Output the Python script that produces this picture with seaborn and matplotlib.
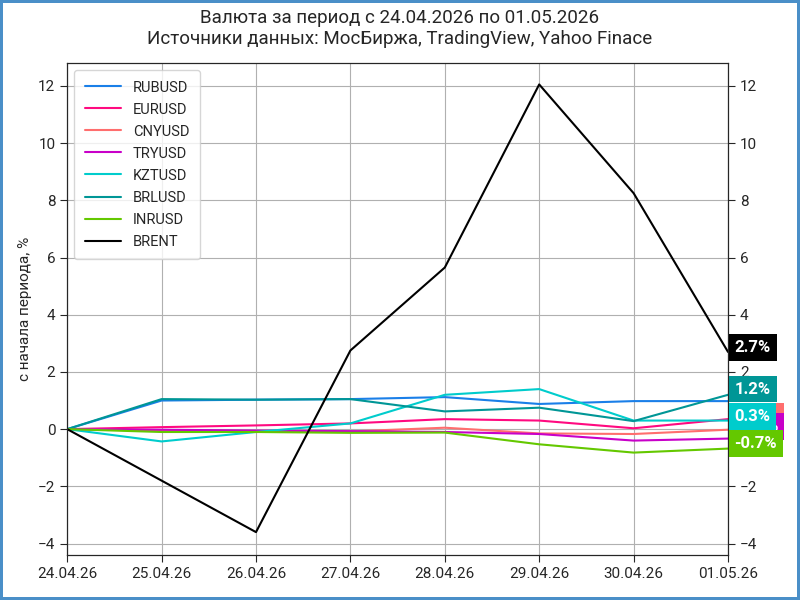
import matplotlib
matplotlib.use("Agg")
import matplotlib.pyplot as plt
import seaborn as sns
import pandas as pd

sns.set_style("white")
plt.rcParams['font.family'] = ['Roboto', 'DejaVu Sans']

dates = ["24.04.26", "25.04.26", "26.04.26", "27.04.26", "28.04.26", "29.04.26", "30.04.26", "01.05.26"]
RUBUSD = [0, 1.0, 1.03, 1.05, 1.12, 0.88, 0.98, 0.98]
EURUSD = [0, 0.07, 0.13, 0.2, 0.35, 0.3, 0.03, 0.35]
CNYUSD = [0, -0.05, -0.07, -0.08, 0.05, -0.15, -0.17, -0.02]
TRYUSD = [0, -0.02, -0.05, -0.07, -0.1, -0.17, -0.4, -0.33]
KZTUSD = [0, -0.43, -0.1, 0.2, 1.2, 1.4, 0.3, 0.3]
BRLUSD = [0, 1.05, 1.03, 1.05, 0.62, 0.75, 0.28, 1.2]
INRUSD = [0, -0.1, -0.1, -0.13, -0.12, -0.53, -0.82, -0.68]
BRENT = [0, -1.8, -3.6, 2.75, 5.65, 12.05, 8.25, 2.7]

series = {"RUBUSD": RUBUSD, "EURUSD": EURUSD, "CNYUSD": CNYUSD, "TRYUSD": TRYUSD,
          "KZTUSD": KZTUSD, "BRLUSD": BRLUSD, "INRUSD": INRUSD, "BRENT": BRENT}
colors = {"RUBUSD": "#1a7fe8", "EURUSD": "#ff0a80", "CNYUSD": "#ff6e6e", "TRYUSD": "#c800c8",
          "KZTUSD": "#00cccc", "BRLUSD": "#009696", "INRUSD": "#64c800", "BRENT": "#000000"}

rows = []
for name, vals in series.items():
    for i, v in enumerate(vals):
        rows.append({"x": i, "v": v, "s": name})
df = pd.DataFrame(rows)

fig = plt.figure(figsize=(8, 6), dpi=100, edgecolor="#4a8fc8", linewidth=3)
ax = fig.add_axes([0.084, 0.075, 0.826, 0.82])
sns.lineplot(data=df, x="x", y="v", hue="s", palette=colors, ax=ax, linewidth=1.5)
ax.set_xlim(0, 7)
ax.set_ylim(-4.4, 12.8)
ax.set_xticks(range(8))
ax.set_xticklabels(dates, fontsize=11)
ax.set_yticks(range(-4, 13, 2))
ax.tick_params(labelsize=11, length=5, left=True, bottom=True)
ax.grid(True, color="#b0b0b0", linewidth=0.8)
ax.set_xlabel("")
ax.set_ylabel("с начала периода, %", fontsize=11)
for s in ax.spines.values():
    s.set_color("black")
leg = ax.legend(loc="upper left", fontsize=10.5, handlelength=2.5, borderpad=0.7, labelspacing=0.55)
ax2 = ax.twinx()
ax2.set_ylim(ax.get_ylim())
ax2.set_yticks(range(-4, 13, 2))
ax2.tick_params(labelsize=11, length=5, right=True)
fig.suptitle("Валюта за период с 24.04.2026 по 01.05.2026\nИсточники данных: МосБиржа, TradingView, Yahoo Finace",
             fontsize=13.5, y=0.985)

# right-side value labels: (series, label y position in data units, x offset)
labels = [("CNYUSD", 0.45, 1.012), ("TRYUSD", 0.1, 1.012),
          ("BRENT", 2.85, 1.01), ("BRLUSD", 1.4, 1.01), ("KZTUSD", 0.45, 1.01), ("INRUSD", -0.5, 1.01)]
for name, ypos, xo in labels:
    val = series[name][-1]
    ax2.text(xo, ypos, f"{val:.1f}%", transform=ax2.get_yaxis_transform(), fontsize=12, fontweight="bold",
             color="white", va="center", ha="left",
             bbox=dict(boxstyle="square,pad=0.35", fc=colors[name], ec="none"), zorder=5, clip_on=False)

fig.savefig("out.png", dpi=100, edgecolor=fig.get_edgecolor())
